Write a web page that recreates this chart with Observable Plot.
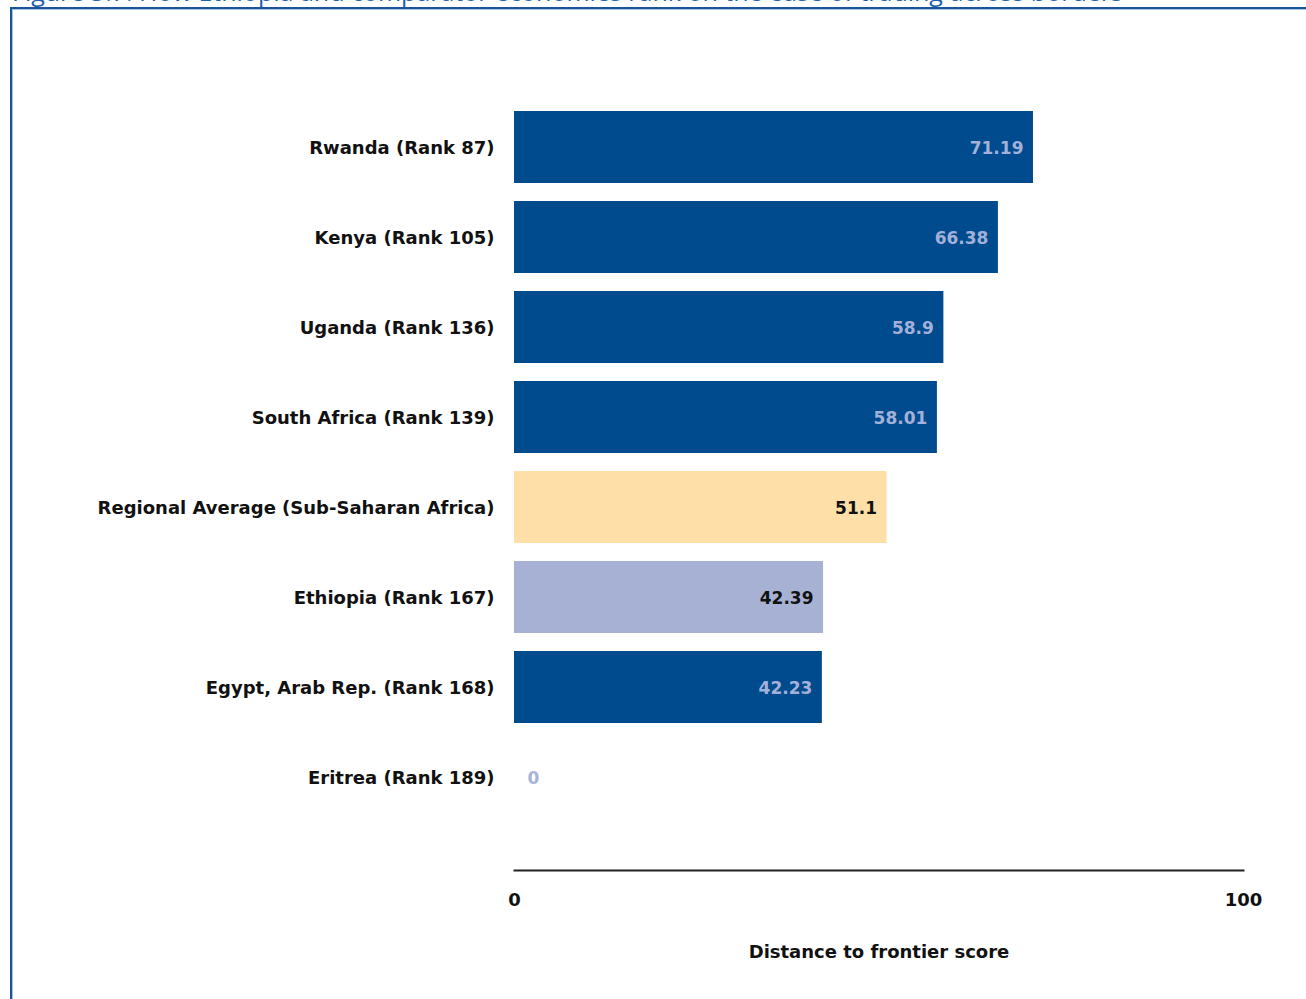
<!DOCTYPE html>
<html>
<head>
<meta charset="utf-8">
<script src="https://cdn.jsdelivr.net/npm/d3@7"></script>
<script src="https://cdn.jsdelivr.net/npm/@observablehq/plot@0.6"></script>
<style>
  html, body { margin: 0; padding: 0; background: #fff; overflow: hidden; }
  #page { position: relative; width: 1306px; height: 999px; overflow: hidden; }
  #title { position: absolute; left: 12px; top: -23px; font-family: "Open Sans", sans-serif; font-size: 25px; color: #1f5fa8; white-space: nowrap; line-height: 28px; }
  #box { position: absolute; left: 10px; top: 7px; width: 1400px; height: 1100px; border: 2px solid #1b5599; box-shadow: inset 1px 1px 0 #a9c2e2; }
  #chart { position: absolute; left: 0; top: 0; }
</style>
</head>
<body>
<div id="page">
  <div id="title">Figure 3.7: How Ethiopia and comparator economies rank on the ease of trading across borders</div>
  <div id="box"></div>
  <div id="chart"></div>
</div>
<script>
const economies = [
  "Rwanda (Rank 87)",
  "Kenya (Rank 105)",
  "Uganda (Rank 136)",
  "South Africa (Rank 139)",
  "Regional Average (Sub-Saharan Africa)",
  "Ethiopia (Rank 167)",
  "Egypt, Arab Rep. (Rank 168)",
  "Eritrea (Rank 189)"
];
const scores = [71.19, 66.38, 58.9, 58.01, 51.1, 42.39, 42.23, 0];
const scoreLabels = ["71.19", "66.38", "58.9", "58.01", "51.1", "42.39", "42.23", "0"];
const barColors = ["#004b8d", "#004b8d", "#004b8d", "#004b8d", "#ffdfa8", "#a6b1d4", "#004b8d", "#a6b1d4"];
const labelColors = ["#a3b1da", "#a3b1da", "#a3b1da", "#a3b1da", "#111111", "#111111", "#a3b1da", "#a6b3dc"];
const xTicks = [0, 100];

const data = economies.map((e, i) => ({
  economy: e, score: scores[i], label: scoreLabels[i], bar: barColors[i], text: labelColors[i]
}));

const chart = Plot.plot({
  width: 1306,
  height: 999,
  marginLeft: 514,
  marginRight: 63,
  marginTop: 102,
  marginBottom: 129,
  style: { fontFamily: "'DejaVu Sans', sans-serif", fontSize: "17px", fontWeight: "bold", color: "#111" },
  x: { domain: [0, 100] },
  y: { domain: economies, range: [102, 822], paddingInner: 0.2, paddingOuter: 0.1 },
  marks: [
    Plot.barX(data, { x: "score", y: "economy", fill: "bar" }),
    Plot.text(data.filter(d => d.score > 0), { x: "score", y: "economy", text: "label", fill: "text", textAnchor: "end", dx: -10, dy: 1 }),
    Plot.text(data.filter(d => d.score === 0), { x: "score", y: "economy", text: "label", fill: "text", textAnchor: "start", dx: 13, dy: 1 }),
    Plot.frame({ anchor: "bottom", stroke: "#222", strokeWidth: 2 }),
    Plot.axisY({ tickSize: 0, tickPadding: 20, label: null, fill: "#111", fontSize: 18, dy: 1 }),
    Plot.axisX({ ticks: xTicks, tickSize: 0, tickPadding: 23, fill: "#111", fontSize: 18,
      label: "Distance to frontier score", labelAnchor: "center", labelArrow: "none", labelOffset: 87 })
  ]
});
document.getElementById("chart").appendChild(chart);
</script>
</body>
</html>
